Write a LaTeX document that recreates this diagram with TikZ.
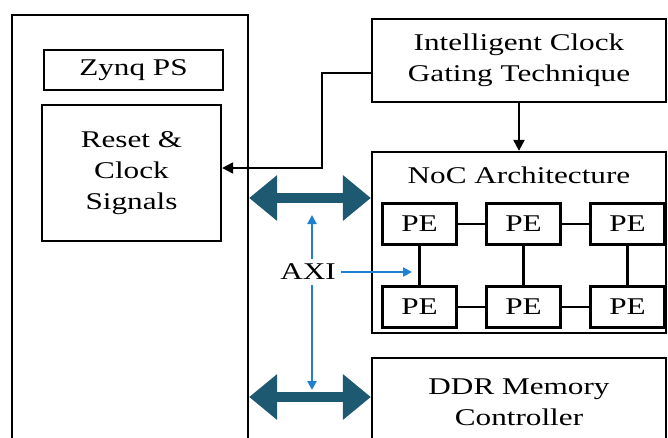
\documentclass[tikz,border=0pt]{standalone}
\usepackage{fontspec}
\setmainfont{Liberation Serif}[FakeStretch=1.3]
\usetikzlibrary{arrows.meta}
\definecolor{busteal}{HTML}{1D5A72}
\definecolor{axiblue}{HTML}{1E80D0}
\begin{document}
\begin{tikzpicture}[x=1pt,y=-1pt,
  font=\fontsize{24}{31}\selectfont,
  box/.style={draw, line width=2.3pt, rectangle, inner sep=0pt, align=center},
  pe/.style={box, minimum width=74pt, minimum height=41pt},
  link/.style={line width=2.3pt},
  bus/.style={busteal, line width=10pt, {Triangle[length=28pt,width=44pt]}-{Triangle[length=28pt,width=44pt]}},
  axi/.style={axiblue, line width=2.2pt, -{Triangle[length=9pt,width=9pt]}},
  sig/.style={line width=2.2pt, -{Triangle[length=11pt,width=11pt]}}]
\useasboundingbox (0,0) rectangle (668,437);
\clip (0,0) rectangle (668,437);
\fill[white] (0,0) rectangle (668,437);
% left PS block
\node[box, minimum width=236pt, minimum height=445pt] (ps) at (130,237.5) {};
\node[box, minimum width=179pt, minimum height=40pt] (zynq) at (133.5,70) {Zynq PS};
\node[box, minimum width=179pt, minimum height=136pt] (rst) at (131.5,173) {Reset \&\\Clock\\Signals};
% clock gating
\node[box, minimum width=294pt, minimum height=83pt] (icg) at (519,60.5) {Intelligent Clock\\Gating Technique};
% NoC
\node[box, minimum width=294pt, minimum height=181pt] (noc) at (519,242.5) {};
\node (noct) at (519,175) {NoC Architecture};
\node[pe] (p11) at (419.5,224) {PE};
\node[pe] (p12) at (523.5,224) {PE};
\node[pe] (p13) at (627.5,224) {PE};
\node[pe] (p21) at (419.5,307) {PE};
\node[pe] (p22) at (523.5,307) {PE};
\node[pe] (p23) at (627.5,307) {PE};
\draw[link] (p11) -- (p12);
\draw[link] (p12) -- (p13);
\draw[link] (p21) -- (p22);
\draw[link] (p22) -- (p23);
\draw[link] (p11) -- (p21);
\draw[link] (p12) -- (p22);
\draw[link] (p13) -- (p23);
% DDR
\node[box, minimum width=294pt, minimum height=120pt] (ddr) at (519,418) {};
\node[align=center] (ddrt) at (519,402.5) {DDR Memory\\Controller};
% clock signal
\coordinate (c1) at (322,73);
\coordinate (c2) at (322,168);
\draw[sig] (icg.west |- c1) -- (c1) -- (c2) -- (rst.east |- c2);
\draw[sig] (icg.south) -- (noc.north);
% buses
\coordinate (b1) at (310,198);
\coordinate (b2) at (310,397);
\draw[bus] (b1 -| ps.east) -- (b1 -| noc.west);
\draw[bus] (b2 -| ps.east) -- (b2 -| noc.west);
% AXI
\node[inner sep=5pt] (axi) at (308,272) {AXI};
\coordinate (aup) at (312,215);
\coordinate (adn) at (312,390);
\coordinate (art) at (412,272);
\draw[axi] (axi.north -| aup) -- (aup);
\draw[axi] (axi.south -| adn) -- (adn);
\draw[axi] (axi.east) -- (art);
\end{tikzpicture}
\end{document}
